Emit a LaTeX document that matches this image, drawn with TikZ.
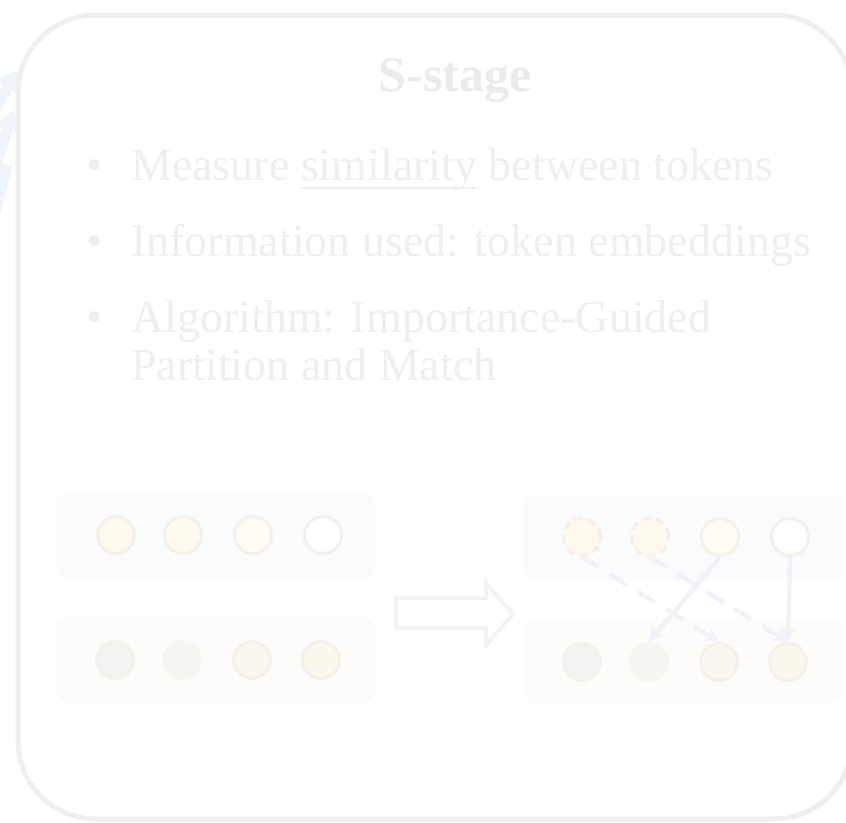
\documentclass[tikz,border=0pt]{standalone}
\usepackage{fontspec}
\setmainfont{Liberation Serif}
\usetikzlibrary{arrows.meta}

\definecolor{frameline}{HTML}{EFEFEF}
\definecolor{titletxt}{HTML}{EBEBEB}
\definecolor{bodytxt}{HTML}{EFEFEF}
\definecolor{bluepanel}{HTML}{FAFBFD}
\definecolor{warmpanel}{HTML}{FDFCFB}
\definecolor{tokrim}{HTML}{F4F0EB}
\definecolor{tokrimdash}{HTML}{F6EFE4}
\definecolor{tokA}{HTML}{FFF8EC}
\definecolor{tokB}{HTML}{FFFAEF}
\definecolor{tokC}{HTML}{FFFCF5}
\definecolor{tokD}{HTML}{FFFFFF}
\definecolor{tokG1}{HTML}{F3F3F3}
\definecolor{tokG2}{HTML}{F5F5F2}
\definecolor{tokY1}{HTML}{FAF7EF}
\definecolor{tokY2}{HTML}{FAF8ED}
\definecolor{matchline}{HTML}{F4F0F8}
\definecolor{bigarrow}{HTML}{F2F4EF}
\definecolor{sidearrow}{HTML}{EFF4FA}

% underline a word with a thick rule just under its descenders
\newcommand\thickul[1]{\setbox0\hbox{#1}\rlap{\rule[-9pt]{\wd0}{2.5pt}}#1}

\tikzset{
  bodyfont/.style={font=\fontsize{46}{48}\selectfont, text=bodytxt, inner sep=0pt, anchor=base west},
  tok/.style={circle, minimum size=37pt, inner sep=0pt, line width=3pt, draw=tokrim},
  tokdash/.style={tok, draw=tokrimdash, dash pattern=on 9pt off 5pt},
  panel/.style={rounded corners=11pt, draw=none},
  matcharrow/.style={draw=matchline, line width=4.5pt, -{Stealth[length=14pt,width=14pt]}},
  matchdash/.style={matcharrow, dash pattern=on 20pt off 13pt},
  sidearr/.style={sidearrow, line width=11pt, -{Triangle[length=20pt,width=26pt]}},
}

\begin{document}
\begin{tikzpicture}[x=1pt,y=-1pt]
\useasboundingbox (0,0) rectangle (846,822);
\fill[white] (0,0) rectangle (846,822);

% pale arrows entering from the left edge
\draw[sidearr] (-18,132) -- (17,70);
\draw[sidearr] (-10,182) -- (14,110);
\draw[sidearrow, line width=11pt] (-8,225) -- (7,165);

% outer frame
\draw[frameline, line width=5pt, rounded corners=78pt] (18,15) rectangle (852,819);

% title and bullet list
\node[font=\bfseries\fontsize{50}{52}\selectfont, text=titletxt, inner sep=0pt, anchor=base] (title) at (455,91) {S-stage};

\node[bodyfont] (b1) at (86,180) {\textbullet};
\node[bodyfont] (l1) at (131,180) {Measure \thickul{similarity} between tokens};
\node[bodyfont] (b2) at (86,256) {\textbullet};
\node[bodyfont] (l2) at (131,256) {Information used: token embeddings};
\node[bodyfont] (b3) at (86,332) {\textbullet};
\node[bodyfont] (l3) at (131,332) {Algorithm: Importance-Guided};
\node[bodyfont] (l4) at (131,380) {Partition and Match};

% left: token rows before merging
\fill[bluepanel, panel] (56,493) rectangle (375,578);
\fill[warmpanel, panel] (56,617) rectangle (375,703);
\node[tok, fill=tokA] (tl1) at (116,535) {};
\node[tok, fill=tokB] (tl2) at (183,535) {};
\node[tok, fill=tokC] (tl3) at (253,535) {};
\node[tok, fill=tokD] (tl4) at (323,535) {};
\node[tok, fill=tokG1] (bl1) at (115,660) {};
\node[tok, fill=tokG2, draw=tokG2] (bl2) at (182,660) {};
\node[tok, fill=tokY1] (bl3) at (252,660) {};
\node[tok, fill=tokY2] (bl4) at (321,660) {};

% hollow transition arrow
\draw[bigarrow, line width=4pt, line join=miter]
  (396,598) -- (486,598) -- (486,583) -- (513,614) -- (486,645) -- (486,628) -- (396,628) -- cycle;

% right: token rows with matching
\fill[bluepanel, panel] (523,495) rectangle (843,580);
\fill[warmpanel, panel] (523,618) rectangle (843,703);
\node[tokdash, fill=tokA] (tr1) at (582,537) {};
\node[tokdash, fill=tokB] (tr2) at (650,537) {};
\node[tok, fill=tokC] (tr3) at (720,537) {};
\node[tok, fill=tokD] (tr4) at (790,537) {};
\node[tok, fill=tokG1] (br1) at (582,662) {};
\node[tok, fill=tokG2, draw=tokG2] (br2) at (649,662) {};
\node[tok, fill=tokY1] (br3) at (719,662) {};
\node[tok, fill=tokY2] (br4) at (788,662) {};

\draw[matchdash] (tr1.south) -- (br3.north);
\draw[matchdash] (tr2.south) -- (br4.north);
\draw[matcharrow] (tr3.south) -- (br2.north);
\draw[matcharrow] (tr4.south) -- (br4.north);
\end{tikzpicture}
\end{document}
